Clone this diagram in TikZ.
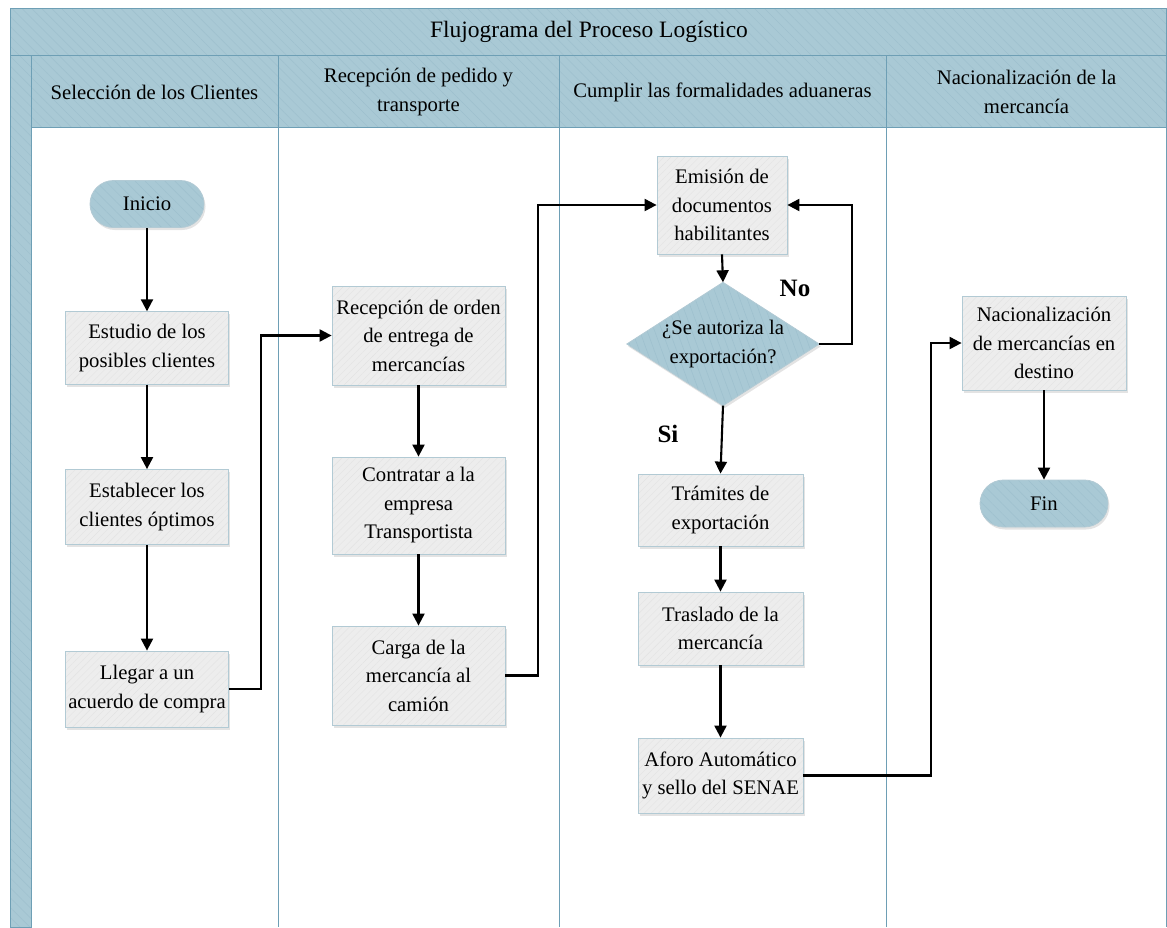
\documentclass[tikz,border=0pt]{standalone}
\usepackage{fontspec}
\setmainfont{Liberation Serif}
\usetikzlibrary{arrows.meta,patterns.meta,shadows}
\definecolor{hdr}{HTML}{A9C9D5}
\definecolor{hdrhatch}{HTML}{9DC0CE}
\definecolor{laneline}{HTML}{6E9FB5}
\definecolor{boxfill}{HTML}{EDEDED}
\definecolor{boxhatch}{HTML}{E3E3E3}
\definecolor{boxline}{HTML}{B2CAD4}
\newcommand\boxfont{\fontsize{20.7}{28.5}\selectfont}
\newcommand\ttlfont{\fontsize{23.5}{28}\selectfont}
\newcommand\lblfont{\fontsize{25}{28}\selectfont\bfseries}
\tikzset{
  hdrfill/.style={preaction={fill=hdr}, pattern={Lines[angle=-45,distance=7pt,line width=0.5pt]}, pattern color=hdrhatch},
  shd/.style={drop shadow={opacity=0.22, shadow xshift=1.5pt, shadow yshift=-2.5pt}},
  proc/.style={shd, draw=boxline, line width=0.8pt, preaction={fill=boxfill},
    pattern={Lines[angle=45,distance=5pt,line width=0.4pt]}, pattern color=boxhatch,
    align=center, inner sep=0pt, font=\boxfont},
  term/.style={shd, draw=boxline, line width=0.8pt, hdrfill, rounded corners=23.5pt,
    minimum width=114pt, minimum height=47pt, inner sep=0pt, font=\boxfont},
  arr/.style={line width=2.1pt, -{Triangle[length=12pt,width=12pt]}},
  lane/.style={draw=laneline, line width=0.9pt},
  hdrtext/.style={align=center, font=\boxfont, inner sep=0pt},
}
\begin{document}
\begin{tikzpicture}[x=1pt,y=-1pt]
\useasboundingbox (0,0) rectangle (1167,927);
% frame
\path[hdrfill, lane] (10,8) rectangle (1166,55);
\path[hdrfill, lane] (10,55) rectangle (31,927);
\path[hdrfill, lane] (31,55) rectangle (1166,127);
\draw[lane] (278,55) -- (278,927);
\draw[lane] (559,55) -- (559,927);
\draw[lane] (886,55) -- (886,927);
\draw[lane] (1166,55) -- (1166,927);
\node[hdrtext, font=\ttlfont] (title) at (589,32) {Flujograma del Proceso Logístico};
\node[hdrtext] (h1) at (154.5,92) {Selección de los Clientes};
\node[hdrtext] (h2) at (418.5,92) {Recepción de pedido y\\transporte};
\node[hdrtext] (h3) at (722.5,92) {Cumplir las formalidades aduaneras};
\node[hdrtext] (h4) at (1026.5,92) {Nacionalización de la\\mercancía};
% lane 1
\node[term] (inicio) at (147,204) {Inicio};
\node[proc, minimum width=163pt, minimum height=73pt] (estudio) at (147,348) {Estudio de los\\posibles clientes};
\node[proc, minimum width=163pt, minimum height=75pt] (establecer) at (147,507) {Establecer los\\clientes óptimos};
\node[proc, minimum width=163pt, minimum height=76pt] (llegar) at (147,689) {Llegar a un\\acuerdo de compra};
% lane 2
\node[proc, minimum width=173pt, minimum height=99pt] (recep) at (418.5,335.5) {Recepción de orden\\de entrega de\\mercancías};
\node[proc, minimum width=173pt, minimum height=97pt] (contratar) at (418.5,505.5) {Contratar a la\\empresa\\Transportista};
\node[proc, minimum width=173pt, minimum height=99pt] (carga) at (418.5,675.5) {Carga de la\\mercancía al\\camión};
% lane 3
\node[proc, minimum width=130pt, minimum height=98pt] (emision) at (722,205) {Emisión de\\documentos\\habilitantes};
\node[minimum width=192pt, minimum height=123pt, inner sep=0pt] (dec) at (723,344) {};
\path[shd, draw=boxline, line width=0.8pt, preaction={fill=hdr}, pattern={Lines[angle=-70,distance=7pt,line width=0.5pt]}, pattern color=hdrhatch]
  (dec.north) -- (dec.east) -- (dec.south) -- (dec.west) -- cycle;
\node[hdrtext] (dectext) at (dec.center) {¿Se autoriza la\\exportación?};
\node[proc, minimum width=165pt, minimum height=72pt] (tramites) at (720.5,510) {Trámites de\\exportación};
\node[proc, minimum width=165pt, minimum height=73pt] (traslado) at (720.5,628.5) {Traslado de la\\mercancía};
\node[proc, minimum width=165pt, minimum height=75pt] (aforo) at (720.5,775.5) {Aforo Automático\\y sello del SENAE};
% lane 4
\node[proc, minimum width=164pt, minimum height=94pt] (nacional) at (1044,343) {Nacionalización\\de mercancías en\\destino};
\node[term, minimum width=128pt] (fin) at (1044,503.5) {Fin};
% labels
\node[font=\lblfont, inner sep=0pt] (no) at (795,288) {No};
\node[font=\lblfont, inner sep=0pt] (si) at (668,434) {Si};
% connectors
\draw[arr] (inicio) -- (estudio);
\draw[arr] (estudio) -- (establecer);
\draw[arr] (establecer) -- (llegar);
\draw[arr] (llegar.east) -- ++(32,0) |- (recep.west);
\draw[arr] (recep) -- (contratar);
\draw[arr] (contratar) -- (carga);
\draw[arr] (carga.east) -- ++(33,0) |- (emision.west);
\draw[arr] (emision.south) -- (dec.north);
\draw[arr] (dec.east) -- ++(33,0) |- (emision.east);
\draw[arr] (dec.south) -- (tramites.north);
\draw[arr] (tramites) -- (traslado);
\draw[arr] (traslado) -- (aforo);
\draw[arr] (aforo.east) -- ++(128,0) |- (nacional.west);
\draw[arr] (nacional) -- (fin);
\end{tikzpicture}
\end{document}
